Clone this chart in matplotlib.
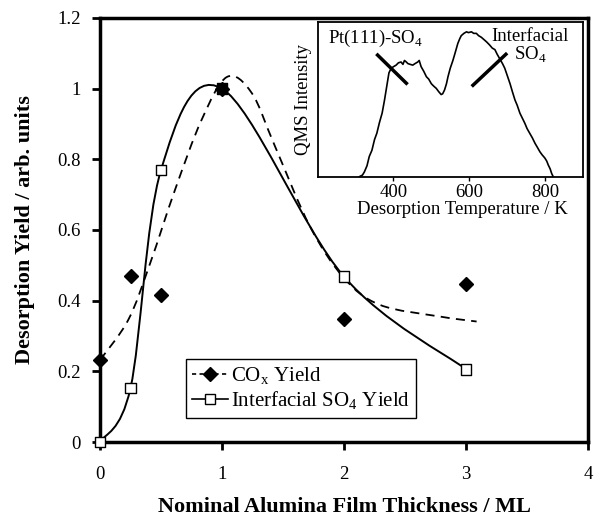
import numpy as np
import matplotlib.pyplot as plt
from matplotlib.lines import Line2D
from matplotlib.path import Path
from matplotlib.patches import PathPatch

plt.rcParams['font.family'] = ['Liberation Serif', 'DejaVu Serif']
plt.rcParams['mathtext.fontset'] = 'custom'
plt.rcParams['mathtext.rm'] = 'Liberation Serif'

# ---- measured points ----
thickness = [0, 0.25, 0.5, 1, 2, 3]
cox_yield = [0.232, 0.47, 0.417, 1.0, 0.348, 0.448]
so4_yield = [0.0, 0.153, 0.77, 1.0, 0.468, 0.206]

# ---- dashed guide curve ----
cox_curve_x = [0, 0.232, 0.41, 0.615, 0.833, 1.04, 1.243, 1.434, 1.721, 2.0, 2.295,
               2.787, 3.087]
cox_curve_y = [0.232, 0.346, 0.505, 0.714, 0.912, 1.033, 0.988, 0.837, 0.61, 0.464, 0.388,
               0.355, 0.341]

# ---- inset TPD trace ----
tpd_temp = [310, 318, 323, 330, 336, 343, 350, 356, 363, 370, 376, 382, 388, 394, 400,
            407, 413, 420, 425, 429, 434, 438, 444, 451, 457, 464, 468, 473, 480, 487,
            493, 500, 506, 513, 519, 526, 530, 535, 540, 544, 550, 557, 563, 570, 575,
            579, 586, 593, 598, 606, 612, 619, 625, 632, 639, 646, 650, 654, 661, 668,
            674, 681, 688, 694, 701, 708, 714, 721, 727, 734, 740, 747, 753, 760, 767,
            774, 780, 787, 793, 800, 805, 809, 814, 818, 822]
tpd_int = [0.0, 0.01, 0.03, 0.07, 0.13, 0.17, 0.24, 0.28, 0.35, 0.41, 0.49, 0.58, 0.67, 0.70, 0.71,
           0.72, 0.735, 0.74, 0.725, 0.75, 0.74, 0.73, 0.725, 0.72, 0.73, 0.74, 0.75, 0.71, 0.68, 0.645,
           0.63, 0.60, 0.585, 0.57, 0.55, 0.53, 0.535, 0.56, 0.60, 0.645, 0.70, 0.75, 0.80, 0.86, 0.89,
           0.91, 0.925, 0.935, 0.93, 0.935, 0.925, 0.925, 0.91, 0.90, 0.885, 0.87, 0.86, 0.85, 0.83, 0.82,
           0.79, 0.76, 0.73, 0.70, 0.65, 0.60, 0.55, 0.495, 0.46, 0.41, 0.38, 0.345, 0.31, 0.28, 0.25,
           0.215, 0.19, 0.16, 0.14, 0.12, 0.10, 0.075, 0.05, 0.02, 0.0]


def smooth_path(xs, ys):
    # spreadsheet-style smoothed line: cubic bezier through the points
    p = np.column_stack([xs, ys]).astype(float)
    n = len(p)
    verts = [p[0]]
    codes = [Path.MOVETO]
    for i in range(n - 1):
        prev = p[i - 1] if i > 0 else p[i]
        nxt2 = p[i + 2] if i + 2 < n else p[i + 1]
        c1 = p[i] + (p[i + 1] - prev) / 6
        c2 = p[i + 1] - (nxt2 - p[i]) / 6
        verts += [c1, c2, p[i + 1]]
        codes += [Path.CURVE4] * 3
    return Path(verts, codes)


fig = plt.figure(figsize=(5.94, 5.18), dpi=100)
ax = fig.add_axes([0.1684, 0.1467, 0.8215, 0.8186])

ax.add_patch(PathPatch(smooth_path(cox_curve_x, cox_curve_y), fill=False, color='black',
                       lw=1.3, ls=(0, (5, 3.5)), zorder=2))
ax.add_patch(PathPatch(smooth_path(thickness, so4_yield), fill=False, color='black',
                       lw=1.4, zorder=2))

ax.plot(thickness, cox_yield, ls='none', marker='D', ms=7, mfc='black', mec='black',
        zorder=3, clip_on=False)
# square filled where the two data sets coincide
so4_fc = ['black' if c == s else 'white' for c, s in zip(cox_yield, so4_yield)]
ax.scatter(thickness, so4_yield, marker='s', s=60, facecolors=so4_fc, edgecolors='black',
           linewidths=1.0, zorder=4, clip_on=False)

ax.set_xlim(0, 4)
ax.set_ylim(0, 1.2)
ax.set_xticks([0, 1, 2, 3, 4])
ax.set_yticks([0, 0.2, 0.4, 0.6, 0.8, 1.0, 1.2])
ax.set_yticklabels(['0', '0.2', '0.4', '0.6', '0.8', '1', '1.2'])
ax.tick_params(direction='out', length=6, width=2, labelsize=13.5, pad=8)
ax.tick_params(axis='x', pad=11)
for s in ax.spines.values():
    s.set_linewidth(2.5)

ax.set_xlabel('Nominal Alumina Film Thickness / ML', fontsize=16, fontweight='bold',
              labelpad=10)
ax.set_ylabel('Desorption Yield / arb. units', fontsize=16, fontweight='bold', labelpad=16)

h1 = Line2D([], [], color='black', lw=1.2, ls=(0, (2.5, 2)), marker='D', ms=7,
            mfc='black', mec='black')
h2 = Line2D([], [], color='black', lw=1.2, marker='s', ms=7.5, mfc='white', mec='black')
leg = ax.legend([h1, h2], ['CO$_\\mathregular{x}$ Yield', 'Interfacial SO$_4$ Yield'],
                loc='lower left', bbox_to_anchor=(0.176, 0.057), fontsize=15,
                frameon=True, fancybox=False, edgecolor='black', framealpha=1,
                handlelength=1.7, handletextpad=0.15, borderpad=0.3,
                labelspacing=0.1, borderaxespad=0)
leg.get_frame().set_linewidth(1.0)

# ---- inset ----
ins = fig.add_axes([0.535, 0.659, 0.446, 0.299])
ins.plot(tpd_temp, tpd_int, color='black', lw=1.2)
ins.set_xlim(200, 900)
ins.set_ylim(0, 1)
ins.set_xticks([400, 600, 800])
ins.set_yticks([])
ins.tick_params(direction='out', length=3, width=1, labelsize=13.5, pad=2)
for s in ins.spines.values():
    s.set_linewidth(1.3)
ins.set_xlabel('Desorption Temperature / K', fontsize=13.5)
ins.xaxis.set_label_coords(0.545, -0.16)
ins.set_ylabel('QMS Intensity', fontsize=13.5, labelpad=4)

ins.plot([358, 434], [0.785, 0.603], color='black', lw=2.5)
ins.plot([610, 697], [0.59, 0.79], color='black', lw=2.5)
ins.text(226, 0.895, 'Pt(111)-SO$_4$', fontsize=13.5, ha='left', va='center')
ins.text(762, 0.96, 'Interfacial\nSO$_4$', fontsize=13.5, ha='center', va='top',
         linespacing=0.95)

fig.savefig('out.png', dpi=100)
